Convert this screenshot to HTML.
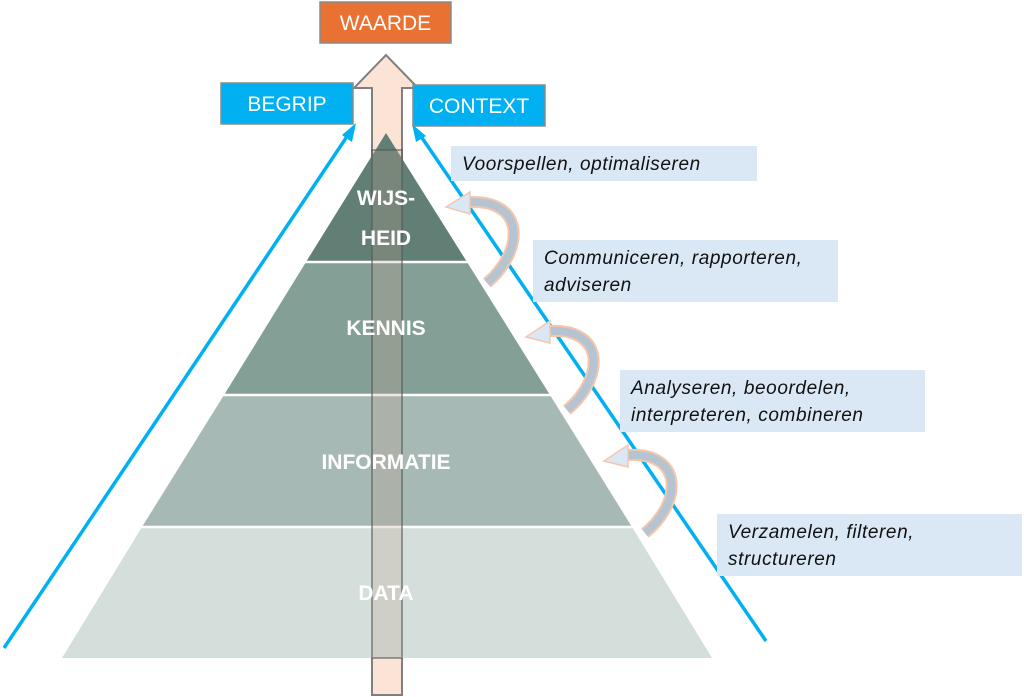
<!DOCTYPE html>
<html><head><meta charset="utf-8"><style>
html,body{margin:0;padding:0;background:#fff;}
svg{display:block;}
text{font-family:"Liberation Sans",sans-serif;}
</style></head><body>
<svg width="1024" height="697" viewBox="0 0 1024 697" xmlns="http://www.w3.org/2000/svg">
<path d="M372,695 L372,88 L354,88 L386,55 L418,88 L402,88 L402,695 Z" fill="#fbe3d6" stroke="#7f7f7f" stroke-width="2"/>
<polygon points="386,133 467,262 306,262" fill="#627f76"/>
<polygon points="306,262 467,262 550,395 224,395" fill="#849f96"/>
<polygon points="224,395 550,395 632,527 142,527" fill="#a6b9b4"/>
<polygon points="142,527 632,527 712,658 62,658" fill="#d4dedb"/>
<line x1="300" y1="262" x2="472" y2="262" stroke="#fff" stroke-width="2.5"/>
<line x1="218" y1="395" x2="556" y2="395" stroke="#fff" stroke-width="2.5"/>
<line x1="136" y1="527" x2="638" y2="527" stroke="#fff" stroke-width="2.5"/>
<rect x="372" y="150" width="30" height="508" fill="rgba(190,160,140,0.25)" stroke="rgba(80,90,85,0.55)" stroke-width="2"/>
<g fill="#fff" font-weight="bold" font-size="21" text-anchor="middle">
<text x="386" y="205">WIJS-</text>
<text x="386" y="245">HEID</text>
<text x="386" y="335">KENNIS</text>
<text x="386" y="469">INFORMATIE</text>
<text x="386" y="600">DATA</text>
</g>
<g stroke="#00b0f0" stroke-width="3.5" fill="none">
<line x1="4" y1="648" x2="350" y2="132"/>
<line x1="766" y1="641" x2="418" y2="132"/>
</g>
<polygon points="356,123 352,142 342,135" fill="#00b0f0"/>
<polygon points="412,124 426,136 416,142" fill="#00b0f0"/>
<rect x="320" y="2" width="131" height="41" fill="#e97132" stroke="#8a8a8a" stroke-width="1.5"/>
<text x="385.5" y="30" fill="#fff" font-size="21" text-anchor="middle">WAARDE</text>
<rect x="221" y="83" width="132" height="41" fill="#00b0f0" stroke="#8a8a8a" stroke-width="1.5"/>
<text x="287" y="111" fill="#fff" font-size="21" text-anchor="middle">BEGRIP</text>
<rect x="413" y="85" width="132" height="41" fill="#00b0f0" stroke="#8a8a8a" stroke-width="1.5"/>
<text x="479" y="113" fill="#fff" font-size="21" text-anchor="middle">CONTEXT</text>
<g fill="#dae8f6">
<rect x="451" y="146" width="306" height="35"/>
<rect x="533" y="240" width="305" height="62"/>
<rect x="620" y="370" width="305" height="62"/>
<rect x="717" y="514" width="305" height="62"/>
</g>
<g fill="#111" font-size="19" font-style="italic" letter-spacing="0.6">
<text x="462" y="170">Voorspellen, optimaliseren</text>
<text x="544" y="264">Communiceren, rapporteren,</text>
<text x="544" y="291">adviseren</text>
<text x="631" y="394">Analyseren, beoordelen,</text>
<text x="631" y="421">interpreteren, combineren</text>
<text x="728" y="538">Verzamelen, filteren,</text>
<text x="728" y="565">structureren</text>
</g>
<g>
<path d="M487,283 C525,250 525,200 470,202" fill="none" stroke="#f4c7ad" stroke-width="12"/>
<path d="M487,283 C525,250 525,200 470,202" fill="none" stroke="#b6c3d0" stroke-width="8"/>
<polygon points="446,207 470,192 470,214" fill="#dae8f6" stroke="#f4c7ad" stroke-width="1.5"/>
<path d="M567,410 C605,378 605,328 550,331" fill="none" stroke="#f4c7ad" stroke-width="12"/>
<path d="M567,410 C605,378 605,328 550,331" fill="none" stroke="#b6c3d0" stroke-width="8"/>
<polygon points="526,337 550,321 550,343" fill="#dae8f6" stroke="#f4c7ad" stroke-width="1.5"/>
<path d="M645,533 C683,502 683,452 628,455" fill="none" stroke="#f4c7ad" stroke-width="12"/>
<path d="M645,533 C683,502 683,452 628,455" fill="none" stroke="#b6c3d0" stroke-width="8"/>
<polygon points="604,461 628,445 628,467" fill="#dae8f6" stroke="#f4c7ad" stroke-width="1.5"/>
</g>
</svg>
</body></html>
